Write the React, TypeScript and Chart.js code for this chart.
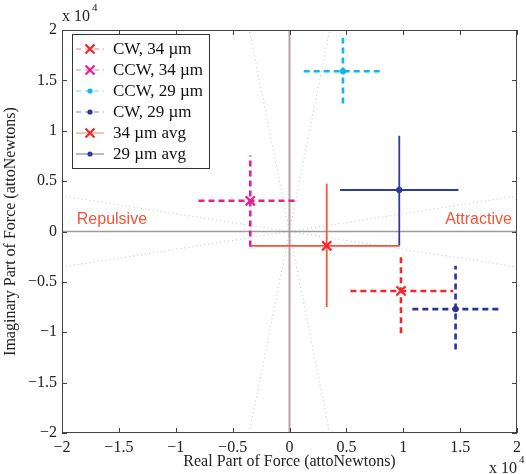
import React, { useEffect, useRef } from "react";
import { Chart, registerables } from "chart.js";
Chart.register(...registerables);

// ---- data ----
const seriesNames = ["CW, 34 µm", "CCW, 34 µm", "CCW, 29 µm", "CW, 29 µm", "34 µm avg", "29 µm avg"];
const centerX = [9800, -3450, 4700, 14600, 3270, 9650];
const centerY = [-5900, 3050, 15900, -7700, -1420, 4120];
const xLow = [5350, -8000, 1250, 10800, -3500, 4450];
const xHigh = [14400, 800, 8100, 18600, 9700, 14850];
const yLow = [-10100, -1500, 12700, -11700, -7500, -1350];
const yHigh = [-2250, 7550, 19200, -3400, 4750, 9500];
const seriesColors = ["#f0282d", "#ec1e8c", "#14b4ec", "#2b3591", "#f2553c", "#2e3a9c"];
const markerColors = ["#f0282d", "#ec1e8c", "#14b4ec", "#2b3591", "#f0282d", "#2e3a9c"];
const markerStyles = ["crossRot", "crossRot", "circle", "circle", "crossRot", "circle"];
const dashed = [true, true, true, true, false, false];

const tickValues = [-20000, -15000, -10000, -5000, 0, 5000, 10000, 15000, 20000];
const tickLabels = ["\u22122", "\u22121.5", "\u22121", "\u22120.5", "0", "0.5", "1", "1.5", "2"];

// dotted guide lines through origin (endpoints)
const guideLines = [
  [[-20000, -3530], [20000, 3530]],
  [[-20000, 3530], [20000, -3530]],
  [[-3530, -20000], [3530, 20000]],
  [[3530, -20000], [-3530, 20000]],
];
const zeroLines = [
  [[-20000, 0], [20000, 0]],
  [[0, -20000], [0, 20000]],
];
const annotations = [
  { text: "Repulsive", x: -18700, y: 1150, align: "left" },
  { text: "Attractive", x: 19550, y: 1150, align: "right" },
];

const SERIF = "'Liberation Serif', 'Times New Roman', serif";
const SANS = "'Liberation Sans', Arial, sans-serif";

const overlayPlugin = {
  id: "overlay",
  afterDatasetsDraw(chart: any) {
    const ctx = chart.ctx;
    const { left, right, top, bottom } = chart.chartArea;
    const xs = chart.scales.x;
    const ys = chart.scales.y;
    ctx.save();
    // annotations
    ctx.font = `16px ${SANS}`;
    ctx.fillStyle = "#f0553a";
    ctx.textBaseline = "middle";
    annotations.forEach((a) => {
      ctx.textAlign = a.align;
      ctx.fillText(a.text, xs.getPixelForValue(a.x), ys.getPixelForValue(a.y));
    });
    // box
    ctx.strokeStyle = "#444";
    ctx.lineWidth = 1;
    ctx.strokeRect(left + 0.5, top + 0.5, right - left - 1, bottom - top - 1);
    // ticks inward
    ctx.beginPath();
    tickValues.forEach((v) => {
      const px = Math.round(xs.getPixelForValue(v)) + 0.5;
      ctx.moveTo(px, bottom); ctx.lineTo(px, bottom - 5);
      ctx.moveTo(px, top); ctx.lineTo(px, top + 5);
      const py = Math.round(ys.getPixelForValue(v)) + 0.5;
      ctx.moveTo(left, py); ctx.lineTo(left + 5, py);
      ctx.moveTo(right, py); ctx.lineTo(right - 5, py);
    });
    ctx.stroke();
    // exponent labels
    ctx.fillStyle = "#222";
    ctx.textAlign = "left";
    ctx.textBaseline = "alphabetic";
    ctx.font = `16px ${SERIF}`;
    ctx.fillText("x 10", left, top - 9);
    ctx.font = `11px ${SERIF}`;
    ctx.fillText("4", left + 30, top - 19);
    ctx.font = `16px ${SERIF}`;
    ctx.fillText("x 10", right - 28, 473);
    ctx.font = `11px ${SERIF}`;
    ctx.fillText("4", right + 2, 463);

    // legend
    const lx = left + 10, ly = top + 4, lw = 137, lh = 134;
    ctx.fillStyle = "#fff";
    ctx.fillRect(lx, ly, lw, lh);
    ctx.strokeStyle = "#333";
    ctx.strokeRect(lx + 0.5, ly + 0.5, lw, lh);
    seriesNames.forEach((name, i) => {
      const cy = ly + 15 + i * 21;
      ctx.strokeStyle = seriesColors[i];
      ctx.globalAlpha = 0.6;
      ctx.lineWidth = 1.2;
      ctx.setLineDash(dashed[i] ? [5, 4] : []);
      ctx.beginPath();
      ctx.moveTo(lx + 4, cy); ctx.lineTo(lx + 32, cy);
      ctx.stroke();
      ctx.setLineDash([]);
      ctx.globalAlpha = 1;
      const mx = lx + 18;
      ctx.strokeStyle = markerColors[i];
      ctx.fillStyle = markerColors[i];
      if (markerStyles[i] === "crossRot") {
        ctx.lineWidth = 2.2;
        ctx.beginPath();
        ctx.moveTo(mx - 4.5, cy - 4.5); ctx.lineTo(mx + 4.5, cy + 4.5);
        ctx.moveTo(mx + 4.5, cy - 4.5); ctx.lineTo(mx - 4.5, cy + 4.5);
        ctx.stroke();
      } else {
        ctx.beginPath();
        ctx.arc(mx, cy, 2.6, 0, Math.PI * 2);
        ctx.fill();
      }
      ctx.fillStyle = "#111";
      ctx.font = `17px ${SERIF}`;
      ctx.textBaseline = "middle";
      ctx.textAlign = "left";
      ctx.fillText(name, lx + 41, cy + 1);
    });
    ctx.restore();
  },
};

export default function App() {
  const ref = useRef<HTMLCanvasElement>(null);
  useEffect(() => {
    if (!ref.current) return;
    const datasets: any[] = [];
    seriesNames.forEach((name, i) => {
      const common = {
        showLine: true,
        pointRadius: 0,
        borderColor: seriesColors[i],
        borderWidth: dashed[i] ? 2.6 : 1.8,
        borderDash: dashed[i] ? [6, 4] : [],
        fill: false,
        order: 1,
      };
      datasets.push({ ...common, label: name + " x", data: [{ x: xLow[i], y: centerY[i] }, { x: xHigh[i], y: centerY[i] }] });
      datasets.push({ ...common, label: name + " y", data: [{ x: centerX[i], y: yLow[i] }, { x: centerX[i], y: yHigh[i] }] });
      datasets.push({
        label: name,
        data: [{ x: centerX[i], y: centerY[i] }],
        showLine: false,
        pointStyle: markerStyles[i],
        pointRadius: markerStyles[i] === "circle" ? 2.8 : 6.5,
        pointBorderWidth: markerStyles[i] === "circle" ? 1 : 2.2,
        pointBorderColor: markerColors[i],
        pointBackgroundColor: markerColors[i],
        order: 0,
      });
    });
    guideLines.forEach((g, k) => {
      datasets.push({
        label: "guide" + k,
        data: g.map((p) => ({ x: p[0], y: p[1] })),
        showLine: true,
        pointRadius: 0,
        borderColor: "#b0cce0",
        borderWidth: 1.1,
        borderDash: [1, 3],
        order: 5,
      });
    });
    zeroLines.forEach((g, k) => {
      datasets.push({
        label: "zero" + k,
        data: g.map((p) => ({ x: p[0], y: p[1] })),
        showLine: true,
        pointRadius: 0,
        borderColor: k === 0 ? "#a09a9a" : "#b0a6a4",
        borderWidth: k === 0 ? 1.4 : 2,
        order: 4,
      });
    });

    const tickCfg = {
      font: { family: SERIF, size: 16 },
      color: "#222",
      callback: (v: number) => {
        const idx = tickValues.indexOf(v);
        return idx >= 0 ? tickLabels[idx] : "";
      },
    };
    const chart = new Chart(ref.current, {
      type: "scatter",
      data: { datasets },
      options: {
        responsive: false,
        animation: false,
        events: [],
        layout: { padding: { top: 30, right: 7, left: 0, bottom: 0 } },
        plugins: { legend: { display: false }, tooltip: { enabled: false } },
        scales: {
          x: {
            type: "linear",
            min: -20000,
            max: 20000,
            afterBuildTicks: (s: any) => { s.ticks = tickValues.map((v) => ({ value: v })); },
            afterFit: (s: any) => { s.height = 41; },
            grid: { display: false, drawTicks: false },
            border: { display: false },
            ticks: { ...tickCfg, padding: 5, maxRotation: 0, autoSkip: false },
            title: { display: true, text: "Real Part of Force (attoNewtons)", font: { family: SERIF, size: 16 }, color: "#222", padding: { top: 0, bottom: 3 } },
          },
          y: {
            type: "linear",
            min: -20000,
            max: 20000,
            afterBuildTicks: (s: any) => { s.ticks = tickValues.map((v) => ({ value: v })); },
            afterFit: (s: any) => { s.width = 62; },
            grid: { display: false, drawTicks: false },
            border: { display: false },
            ticks: { ...tickCfg, padding: 5, autoSkip: false },
            title: { display: true, text: "Imaginary Part of Force (attoNewtons)", font: { family: SERIF, size: 16 }, color: "#222", padding: { top: 1, bottom: 0 } },
          },
        },
      },
      plugins: [overlayPlugin],
    } as any);
    return () => chart.destroy();
  }, []);
  return (
    <div style={{ position: "absolute", left: 0, top: 0, width: 526, height: 474, background: "#fff" }}>
      <canvas ref={ref} width={526} height={474} style={{ display: "block" }} />
    </div>
  );
}
